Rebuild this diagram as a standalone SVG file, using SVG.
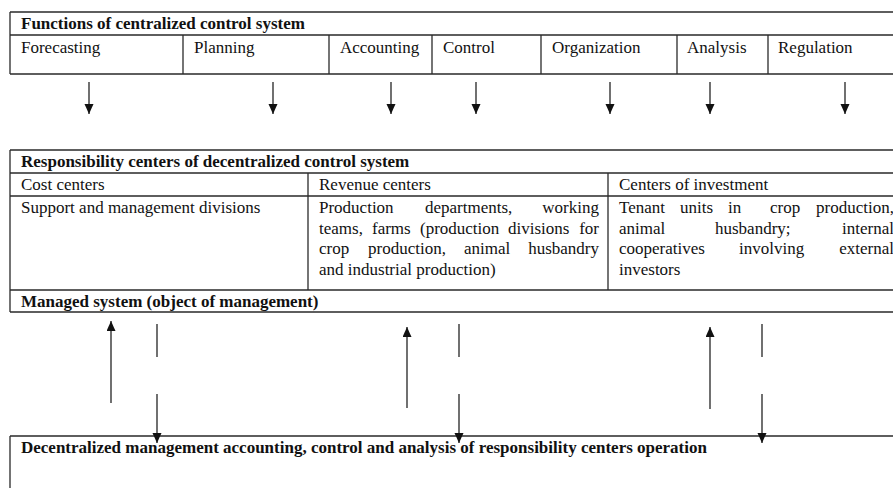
<svg xmlns="http://www.w3.org/2000/svg" width="893" height="488" viewBox="0 0 893 488">
<style>
.t{font-family:"Liberation Serif","Times New Roman",serif;font-size:17px;fill:#111}
.b{font-weight:bold}
.e{text-anchor:end}
.ln{stroke:#2a2a2a;stroke-width:1.3;fill:none}
.ar{stroke:#111;stroke-width:1.2;fill:none}
</style>
<defs>
<marker id="ah" markerUnits="userSpaceOnUse" markerWidth="11" markerHeight="10" refX="10" refY="4.5" orient="auto">
<path d="M0,0 L10,4.5 L0,9 z" fill="#111"/>
</marker>
</defs>
<rect width="893" height="488" fill="#fff"/>

<g id="functions">
<path class="ln" d="M10,12 H900 M10,35 H900 M10,74 H900 M10,12 V74"/>
<text class="t b" x="21" y="29">Functions of centralized control system</text>
</g>
<g id="f-forecasting"><text class="t" x="21" y="53">Forecasting</text></g>
<g id="f-planning"><path class="ln" d="M183,35 V74"/><text class="t" x="194" y="53">Planning</text></g>
<g id="f-accounting"><path class="ln" d="M329,35 V74"/><text class="t" x="340" y="53">Accounting</text></g>
<g id="f-control"><path class="ln" d="M432,35 V74"/><text class="t" x="443" y="53">Control</text></g>
<g id="f-organization"><path class="ln" d="M541,35 V74"/><text class="t" x="552" y="53">Organization</text></g>
<g id="f-analysis"><path class="ln" d="M677,35 V74"/><text class="t" x="687" y="53">Analysis</text></g>
<g id="f-regulation"><path class="ln" d="M768,35 V74"/><text class="t" x="778" y="53">Regulation</text></g>

<g id="responsibility">
<path class="ln" d="M10,150 H900 M10,173 H900 M10,196 H900 M10,290 H900 M10,150 V290"/>
<text class="t b" x="21" y="167">Responsibility centers of decentralized control system</text>
</g>
<g id="cost-centers">
<text class="t" x="21" y="190">Cost centers</text>
<text class="t" x="21" y="213">Support and management divisions</text>
</g>
<g id="revenue-centers">
<path class="ln" d="M308,173 V290"/>
<text class="t" x="319" y="190">Revenue centers</text>
<text class="t" x="319" y="213">Production</text>
<text class="t" x="425" y="213">departments,</text>
<text class="t e" x="599" y="213">working</text>
<text class="t" x="319" y="233.5">teams,</text>
<text class="t" x="372" y="233.5">farms</text>
<text class="t" x="420" y="233.5">(production</text>
<text class="t" x="508" y="233.5">divisions</text>
<text class="t e" x="599" y="233.5">for</text>
<text class="t" x="319" y="254">crop</text>
<text class="t" x="368" y="254">production,</text>
<text class="t" x="464" y="254">animal</text>
<text class="t e" x="599" y="254">husbandry</text>
<text class="t" x="319" y="274.5">and industrial production)</text>
</g>
<g id="investment-centers">
<path class="ln" d="M608,173 V290"/>
<text class="t" x="619" y="190">Centers of investment</text>
<text class="t" x="619" y="213">Tenant</text>
<text class="t" x="680" y="213">units</text>
<text class="t" x="728" y="213">in</text>
<text class="t" x="770" y="213">crop</text>
<text class="t e" x="894" y="213">production,</text>
<text class="t" x="619" y="233.5">animal</text>
<text class="t" x="715" y="233.5">husbandry;</text>
<text class="t e" x="894" y="233.5">internal</text>
<text class="t" x="619" y="254">cooperatives</text>
<text class="t" x="739" y="254">involving</text>
<text class="t e" x="894" y="254">external</text>
<text class="t" x="619" y="274.5">investors</text>
</g>
<g id="managed-system">
<path class="ln" d="M10,290 V312 M10,312 H900"/>
<text class="t b" x="21" y="306.5">Managed system (object of management)</text>
</g>
<g id="decentralized-accounting">
<path class="ln" d="M10,436 H900 M10,436 V490"/>
<text class="t b" x="21" y="453">Decentralized management accounting, control and analysis of responsibility centers operation</text>
</g>

<g id="connectors" class="ar">
<line x1="89" y1="82" x2="89" y2="114" marker-end="url(#ah)"/>
<line x1="273" y1="82" x2="273" y2="114" marker-end="url(#ah)"/>
<line x1="391" y1="82" x2="391" y2="114" marker-end="url(#ah)"/>
<line x1="476" y1="82" x2="476" y2="114" marker-end="url(#ah)"/>
<line x1="610" y1="82" x2="610" y2="114" marker-end="url(#ah)"/>
<line x1="710" y1="82" x2="710" y2="114" marker-end="url(#ah)"/>
<line x1="845" y1="82" x2="845" y2="114" marker-end="url(#ah)"/>

<line x1="111" y1="403" x2="111" y2="321" marker-end="url(#ah)"/>
<line x1="407" y1="408" x2="407" y2="327" marker-end="url(#ah)"/>
<line x1="710" y1="409" x2="710" y2="327" marker-end="url(#ah)"/>

<line x1="157" y1="324" x2="157" y2="357"/>
<line x1="157" y1="394" x2="157" y2="443" marker-end="url(#ah)"/>
<line x1="459" y1="324" x2="459" y2="357"/>
<line x1="459" y1="394" x2="459" y2="443" marker-end="url(#ah)"/>
<line x1="762" y1="324" x2="762" y2="357"/>
<line x1="762" y1="394" x2="762" y2="443" marker-end="url(#ah)"/>
</g>
</svg>
